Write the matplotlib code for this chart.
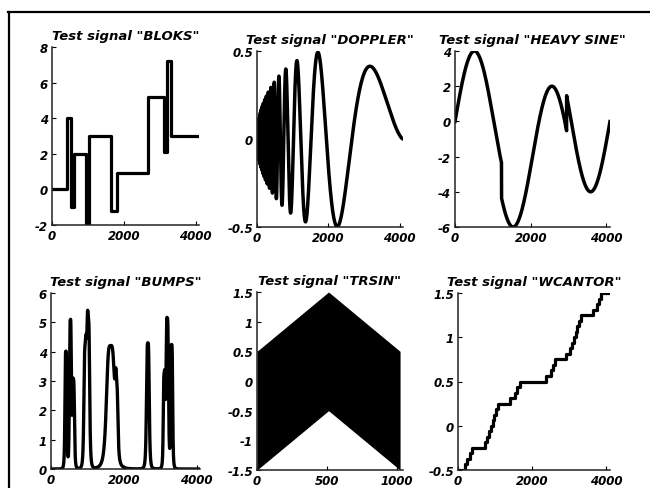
import numpy as np
import matplotlib
matplotlib.use("Agg")
import matplotlib.pyplot as plt
from matplotlib.lines import Line2D

plt.rcParams['font.family'] = ['DejaVu Sans']
plt.rcParams['font.weight'] = 'bold'
plt.rcParams['font.style'] = 'oblique'
plt.rcParams['axes.unicode_minus'] = False

N = 4096

# ---------------- data ----------------
titles = ['Test signal "BLOKS"', 'Test signal "DOPPLER"', 'Test signal "HEAVY SINE"',
          'Test signal "BUMPS"', 'Test signal "TRSIN"', 'Test signal "WCANTOR"']

# BLOKS: step start positions and levels
blocks_breaks = [0, 410, 532, 614, 942, 1024, 1638, 1802, 2662, 3113, 3195, 3318]
blocks_levels = [0, 4, -1, 2, -2, 3, -1.2, 0.9, 5.2, 2.1, 7.2, 3.0]
blocks_end = 4096

# DOPPLER parameters
doppler_eps = 0.05
doppler_freq = 1.05

# HEAVY SINE parameters
heavy_amp = 4.0
heavy_jumps = [0.30, 0.72]

# BUMPS parameters (position, height, width)
bumps_pos = [0.10, 0.13, 0.15, 0.23, 0.25, 0.40, 0.44, 0.65, 0.76, 0.78, 0.81]
bumps_height = [4.0, 5.0, 3.0, 4.0, 5.0, 4.2, 2.1, 4.3, 3.1, 5.1, 4.2]
bumps_width = [0.007, 0.007, 0.008, 0.01, 0.01, 0.03, 0.01, 0.01, 0.007, 0.009, 0.007]

# TRSIN envelope
trsin_x = [0, 512, 1024]
trsin_upper = [0.5, 1.5, 0.5]
trsin_lower = [-1.5, -0.5, -1.5]

# WCANTOR staircase (step start, level)
wc_x = [0, 188, 250, 320, 370, 411, 725, 780, 840, 880, 930, 980, 1030, 1080, 1128,
        1396, 1460, 1530, 1590, 1664, 2381, 2440, 2500, 2550, 2604,
        2918, 2970, 3020, 3070, 3120, 3170, 3220, 3270, 3320,
        3633, 3690, 3740, 3800, 3857]
wc_y = [-0.5, -0.4375, -0.375, -0.3125, -0.25, -0.25, -0.1875, -0.125, -0.0625, 0.0, 0.0625, 0.125, 0.1875, 0.25, 0.25,
        0.3125, 0.3125, 0.375, 0.4375, 0.5, 0.5625, 0.5625, 0.625, 0.6875, 0.75,
        0.8125, 0.8125, 0.875, 0.9375, 1.0, 1.0625, 1.125, 1.1875, 1.25,
        1.3125, 1.3125, 1.375, 1.4375, 1.5]
wc_end = 4096

# axis ticks / labels
xt_4096 = [0, 2000, 4000]
xl_4096 = ['0', '2000', '4000']
xt_trsin = [0, 500, 1000]
xl_trsin = ['0', '500', '1000']
yt_blocks = [-2, 0, 2, 4, 6, 8]
yt_doppler = [-0.5, 0, 0.5]
yl_doppler = ['-0.5', '0', '0.5']
yt_heavy = [-6, -4, -2, 0, 2, 4]
yt_bumps = [0, 1, 2, 3, 4, 5, 6]
yt_half = [-1.5, -1, -0.5, 0, 0.5, 1, 1.5]
yl_half = ['-1.5', '-1', '-0.5', '0', '0.5', '1', '1.5']
yt_wc = [-0.5, 0, 0.5, 1, 1.5]
yl_wc = ['-0.5', '0', '0.5', '1', '1.5']

# ---------------- figure ----------------
W, H = 650, 489
fig = plt.figure(figsize=(W / 100, H / 100), dpi=100)

def box(l, r, t, b):
    return [l / W, 1 - b / H, (r - l) / W, (b - t) / H]

pos = [box(52, 199, 48, 226), box(257, 403, 52, 228), box(455, 610, 52, 228),
       box(51, 200, 294, 470), box(257, 403, 293, 471), box(458, 610, 294, 471)]

axs = [fig.add_axes(p) for p in pos]

def style(ax, title, xt, xl, yt, yl, xlim, ylim):
    ax.set_xlim(*xlim)
    ax.set_ylim(*ylim)
    ax.set_xticks(xt)
    ax.set_xticklabels(xl)
    ax.set_yticks(yt)
    ax.set_yticklabels(yl)
    for s in ['top', 'right']:
        ax.spines[s].set_visible(False)
    for s in ['left', 'bottom']:
        ax.spines[s].set_linewidth(1.1)
        ax.spines[s].set_color('#222222')
    ax.tick_params(direction='in', length=3, width=0.8, labelsize=8.5, pad=3,
                   colors='black')
    ax.set_title(title, fontsize=9.5, pad=6, fontweight='bold', fontstyle='oblique')

t = np.arange(N) / N
x = np.arange(N)
LW = 2.3

# BLOKS
ax = axs[0]
bx = list(blocks_breaks) + [blocks_end]
by = list(blocks_levels) + [blocks_levels[-1]]
ax.step(bx, by, where='post', color='black', lw=LW)
style(ax, titles[0], xt_4096, xl_4096, yt_blocks, [str(v) for v in yt_blocks], (0, 4096), (-2, 8))

# DOPPLER
ax = axs[1]
dop = np.sqrt(t * (1 - t)) * np.sin(2 * np.pi * doppler_freq / (t + doppler_eps))
ax.plot(x, dop, color='black', lw=2.5)
style(ax, titles[1], xt_4096, xl_4096, yt_doppler, yl_doppler, (0, 4096), (-0.5, 0.5))

# HEAVY SINE
ax = axs[2]
hs = heavy_amp * np.sin(4 * np.pi * t) - np.sign(t - heavy_jumps[0]) - np.sign(heavy_jumps[1] - t)
ax.plot(x, hs, color='black', lw=2.5)
style(ax, titles[2], xt_4096, xl_4096, yt_heavy, [str(v) for v in yt_heavy], (0, 4096), (-6, 4))

# BUMPS
ax = axs[3]
bu = np.zeros(N)
for p, h, w in zip(bumps_pos, bumps_height, bumps_width):
    bu += h / (1 + ((t - p) / w) ** 4)
ax.plot(x, bu, color='black', lw=2.4)
style(ax, titles[3], xt_4096, xl_4096, yt_bumps, [str(v) for v in yt_bumps], (0, 4096), (0, 6))

# TRSIN
ax = axs[4]
ax.fill_between(trsin_x, trsin_lower, trsin_upper, color='black', lw=0)
style(ax, titles[4], xt_trsin, xl_trsin, yt_half, yl_half, (0, 1045), (-1.5, 1.5))

# WCANTOR
ax = axs[5]
wx = list(wc_x) + [wc_end]
wy = list(wc_y) + [wc_y[-1]]
ax.step(wx, wy, where='post', color='black', lw=LW)
style(ax, titles[5], xt_4096, xl_4096, yt_wc, yl_wc, (0, 4096), (-0.5, 1.5))

# frame lines (top and left)
fig.add_artist(Line2D([8 / W, 1], [1 - 12.7 / H, 1 - 12.7 / H], color='black', lw=1.6,
                      transform=fig.transFigure))
fig.add_artist(Line2D([8.5 / W, 8.5 / W], [0, 1 - 12.7 / H], color='black', lw=1.6,
                      transform=fig.transFigure))

fig.savefig('out.png', dpi=100)
